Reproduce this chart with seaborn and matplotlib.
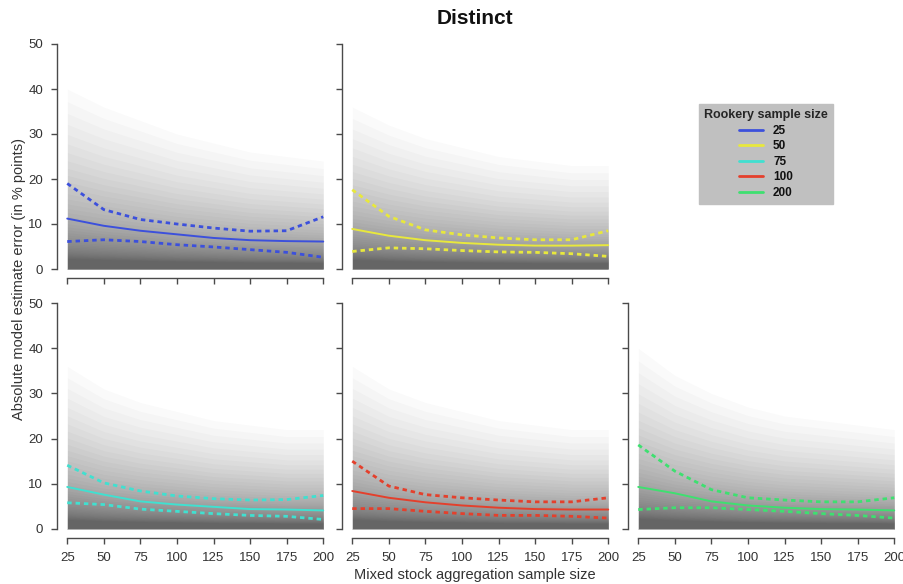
import numpy as np
import pandas as pd
import matplotlib
matplotlib.use("Agg")
import matplotlib.pyplot as plt
from matplotlib.lines import Line2D
import seaborn as sns

# Mixed stock aggregation sample sizes (x positions of the summary curves)
mix_sizes = [25, 50, 75, 100, 125, 150, 175, 200]

# Rookery sample sizes and their colours
rookery_sizes = ["25", "50", "75", "100", "200"]
rookery_colors = ["#3c50dc", "#e8e83c", "#40e0d0", "#e4402c", "#3ee070"]

# Median absolute error per rookery sample size
median_25 = [11.2, 9.6, 8.5, 7.7, 6.9, 6.4, 6.2, 6.1]
median_50 = [8.9, 7.4, 6.4, 5.8, 5.4, 5.2, 5.2, 5.3]
median_75 = [9.3, 7.6, 6.1, 5.4, 4.9, 4.4, 4.3, 4.1]
median_100 = [8.4, 6.9, 5.9, 5.2, 4.7, 4.4, 4.3, 4.3]
median_200 = [9.3, 7.9, 6.1, 5.2, 4.7, 4.4, 4.3, 4.1]

# Upper quantile curves
upper_25 = [19.0, 13.2, 11.0, 10.0, 9.1, 8.4, 8.5, 11.6]
upper_50 = [17.6, 11.7, 8.7, 7.6, 6.9, 6.5, 6.5, 8.5]
upper_75 = [14.1, 10.2, 8.4, 7.3, 6.7, 6.4, 6.5, 7.4]
upper_100 = [15.0, 9.5, 7.6, 6.9, 6.4, 6.0, 6.0, 6.9]
upper_200 = [18.6, 12.8, 8.7, 6.9, 6.4, 6.0, 6.0, 6.9]

# Lower quantile curves
lower_25 = [6.1, 6.5, 6.1, 5.4, 4.9, 4.3, 3.7, 2.6]
lower_50 = [3.9, 4.7, 4.5, 4.1, 3.8, 3.7, 3.4, 2.8]
lower_75 = [5.8, 5.4, 4.4, 3.9, 3.4, 3.0, 2.8, 2.1]
lower_100 = [4.5, 4.5, 3.9, 3.4, 3.0, 3.0, 2.8, 2.4]
lower_200 = [4.3, 4.7, 4.7, 4.3, 3.9, 3.4, 3.0, 2.4]

# Outer extent of the raw error cloud per rookery sample size
cloud_25 = [40, 36, 33, 30, 28, 26, 25, 24]
cloud_50 = [36, 32, 29, 27, 25, 24, 23, 23]
cloud_75 = [36, 31, 28, 26, 24, 23, 22, 22]
cloud_100 = [36, 31, 28, 26, 24, 23, 22, 22]
cloud_200 = [40, 34, 30, 27, 25, 24, 23, 22]

y_ticks = [0, 10, 20, 30, 40, 50]

medians = [median_25, median_50, median_75, median_100, median_200]
uppers = [upper_25, upper_50, upper_75, upper_100, upper_200]
lowers = [lower_25, lower_50, lower_75, lower_100, lower_200]
clouds = [cloud_25, cloud_50, cloud_75, cloud_100, cloud_200]

rows = []
for size, med, up, lo in zip(rookery_sizes, medians, uppers, lowers):
    for x, m, u, l in zip(mix_sizes, med, up, lo):
        rows.append({"rookery": size, "mix": x, "median": m, "upper": u, "lower": l})
df = pd.DataFrame(rows)

sns.set_theme(style="ticks")
plt.rcParams["font.family"] = ["Liberation Sans", "DejaVu Sans"]

fig = plt.figure(figsize=(9.04, 5.84), dpi=100)

col_left = [57 / 904, 342 / 904, 628 / 904]
ax_w = 276.5 / 904
top_row = (1 - 278 / 584, 243 / 584)
bot_row = (1 - 538 / 584, 244 / 584)
slots = [(0, top_row, True), (1, top_row, True), (0, bot_row, False),
         (1, bot_row, False), (2, bot_row, False)]

# Shading layers of the error cloud: nested fractions of its outer extent,
# thin and many so the haze thickens smoothly towards zero
layer_frac = 0.93 ** np.arange(40)

spine_col = "#4a4a4a"
for i, (col, (b, h), top) in enumerate(slots):
    ax = fig.add_axes([col_left[col], b, ax_w, h])
    size = rookery_sizes[i]
    color = rookery_colors[i]
    cloud = np.array(clouds[i])
    for f in layer_frac:
        ax.fill_between(mix_sizes, 0, cloud * f, color="black", alpha=0.021,
                        linewidth=0, zorder=1)
    sub = df[df["rookery"] == size]
    sns.lineplot(data=sub, x="mix", y="median", ax=ax, color=color, lw=1.4,
                 zorder=3)
    for col_name in ["upper", "lower"]:
        sns.lineplot(data=sub, x="mix", y=col_name, ax=ax, color=color, lw=2.0,
                     linestyle=(0, (1.6, 1.4)), zorder=3)

    ax.set_xlim(18, 207)
    ax.set_ylim(-2, 52)
    ax.set_xticks(mix_sizes)
    ax.set_yticks(y_ticks)
    ax.spines["left"].set_bounds(0, 50)
    ax.spines["bottom"].set_bounds(25, 200)
    for s in ["top", "right"]:
        ax.spines[s].set_visible(False)
    for s in ["left", "bottom"]:
        ax.spines[s].set_color(spine_col)
        ax.spines[s].set_linewidth(1.0)
    ax.tick_params(axis="both", length=4, width=1.0, color=spine_col,
                   labelsize=9.5, labelcolor="#333333", pad=6)
    ax.set_xlabel("")
    ax.set_ylabel("")
    if top:
        ax.tick_params(axis="x", labelbottom=False)
    if col != 0:
        ax.tick_params(axis="y", labelleft=False)

fig.text(0.5255, 0.968, "Distinct", ha="center", va="center", fontsize=15,
         fontweight="bold", color="#111111")
fig.text(0.5255, 0.0154, "Mixed stock aggregation sample size", ha="center",
         va="center", fontsize=10.5, color="#333333")
fig.text(0.021, 0.522, "Absolute model estimate error (in % points)", ha="center",
         va="center", rotation=90, fontsize=10.5, color="#333333")

handles = [Line2D([0], [0], color=c, lw=2) for c in rookery_colors]
leg = fig.legend(handles, rookery_sizes, title="Rookery sample size",
                 loc="upper left", bbox_to_anchor=(699 / 904, 1 - 104 / 584),
                 borderaxespad=0, frameon=True, fancybox=False, framealpha=1,
                 facecolor="#c0c0c0", edgecolor="#c0c0c0",
                 prop={"size": 8.5, "weight": "bold"},
                 title_fontproperties={"size": 9, "weight": "bold"},
                 handlelength=2.0, borderpad=0.45, labelspacing=0.3,
                 handletextpad=0.85)
for t in leg.get_texts():
    t.set_color("#111111")

fig.savefig("out.png", dpi=100)
